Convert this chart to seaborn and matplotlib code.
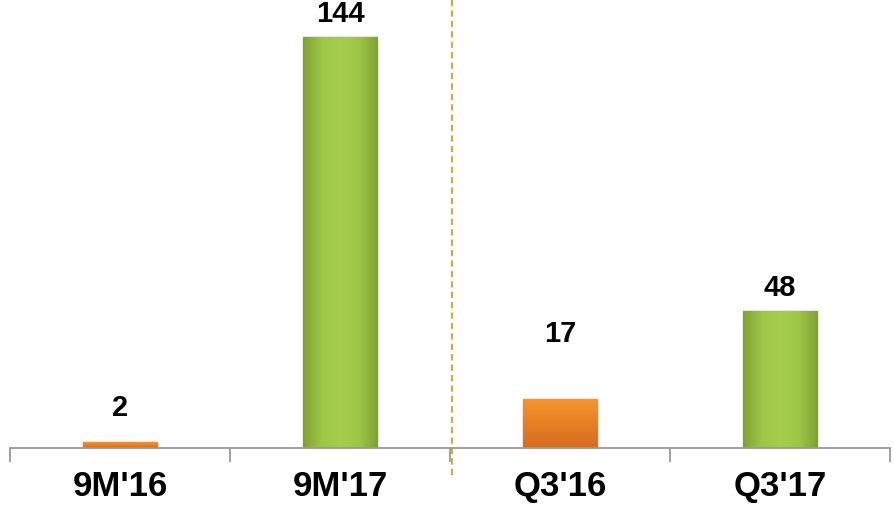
import matplotlib
matplotlib.use('Agg')
import matplotlib.pyplot as plt
from matplotlib.colors import LinearSegmentedColormap
import numpy as np
import seaborn as sns
import pandas as pd

# данные графика
categories = ["9M'16", "9M'17", "Q3'16", "Q3'17"]
values = [2, 144, 17, 48]
label_offsets = [12, 8, 23, 8]  # смещение подписей над столбцами
bar_colors = ['#F28A2B', '#96C240', '#F28A2B', '#96C240']
edge_colors = ['#E07A22', '#7FA535', '#E07A22', '#7FA535']

df = pd.DataFrame({'period': categories, 'value': values})

sns.set_style('white')
plt.rcParams['font.family'] = ['Liberation Sans', 'DejaVu Sans']

fig = plt.figure(figsize=(8.95, 5.05), dpi=100)
ax = fig.add_axes([10 / 895, 57 / 505, 880 / 895, 448 / 505])

sns.barplot(data=df, x='period', y='value', hue='period', palette=bar_colors,
            legend=False, width=0.34, saturation=1, ax=ax)

# градиентная заливка столбцов
orange_cmap = LinearSegmentedColormap.from_list('o', ['#D56C1E', '#F7942E'])
green_cmap = LinearSegmentedColormap.from_list('g', ['#80A233', '#9EC646', '#A6CD4E', '#9EC646', '#80A233'])
for patch, ec in zip(ax.patches, edge_colors):
    patch.set_edgecolor(ec)
    patch.set_linewidth(1.0)
    x0, y0 = patch.get_x(), patch.get_y()
    w, h = patch.get_width(), patch.get_height()
    if ec == '#E07A22':
        grad = np.linspace(0, 1, 100).reshape(-1, 1)
        cmap = orange_cmap
    else:
        grad = np.linspace(0, 1, 100).reshape(1, -1)
        cmap = green_cmap
    im = ax.imshow(grad, extent=[x0, x0 + w, y0, y0 + h], origin='lower',
                   aspect='auto', cmap=cmap, zorder=patch.get_zorder() + 0.1)
    im.set_clip_path(patch)

# подписи значений
for i, (v, off) in enumerate(zip(values, label_offsets)):
    ax.text(i, v + off, str(v), ha='center', va='center',
            fontsize=21, fontweight='bold', color='black')

ax.set_xlim(-0.5, 3.5)
ax.set_ylim(0, 157)
ax.set_xlabel('')
ax.set_ylabel('')
ax.set_yticks([])

for s in ['top', 'right', 'left']:
    ax.spines[s].set_visible(False)
ax.spines['bottom'].set_color('#999999')
ax.spines['bottom'].set_linewidth(1.3)
ax.spines['bottom'].set_zorder(5)

ax.set_xticks([-0.5, 0.5, 1.5, 2.5, 3.5], minor=True)
ax.tick_params(axis='x', which='minor', bottom=True, length=10, width=1.3,
               color='#999999', direction='out')
ax.tick_params(axis='x', which='major', bottom=True, length=0, pad=16)
for lbl in ax.get_xticklabels():
    lbl.set_fontsize(25)
    lbl.set_fontweight('bold')
    lbl.set_color('black')

# пунктирная разделительная линия
ax.axvline(1.51, ymin=-0.06, ymax=1, color='#D4A935', linestyle=(0, (3, 2)),
           linewidth=1.5, clip_on=False)

plt.savefig('out.png', dpi=100)
